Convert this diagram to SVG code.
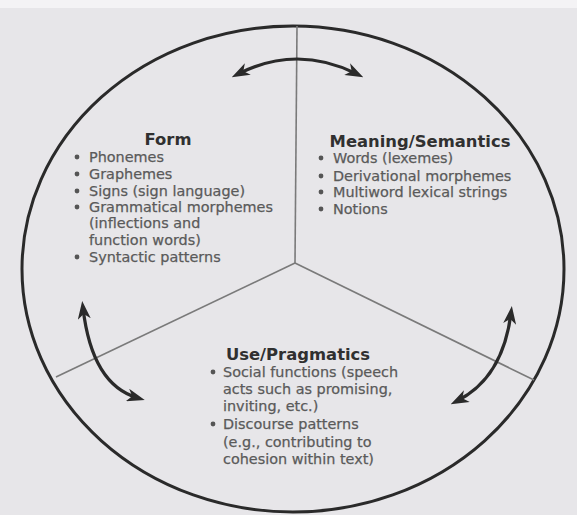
<svg xmlns="http://www.w3.org/2000/svg" width="577" height="515" viewBox="0 0 577 515">
<defs>
<style>
.bg{fill:#e7e6e9}
.rim{fill:none;stroke:#2a2a2a;stroke-width:3}
.div{stroke:#7a7a7a;stroke-width:1.6;fill:none}
.arr{fill:none;stroke:#2a2a2a;stroke-width:3.2}
.title{font-family:"DejaVu Sans",Verdana,sans-serif;font-weight:bold;font-size:16.4px;fill:#303030;text-anchor:middle}
.item{font-family:"DejaVu Sans",Verdana,sans-serif;font-size:14.4px;fill:#5a5a5a;stroke:#5a5a5a;stroke-width:0.25}
.dot{fill:#555}
</style>
<marker id="ah" viewBox="0 0 18 13" refX="11" refY="6.5" markerWidth="18" markerHeight="13" orient="auto-start-reverse" markerUnits="userSpaceOnUse">
<path d="M0,0 L18,6.5 L0,13 L5,6.5 z" fill="#2a2a2a"/>
</marker>
</defs>
<rect class="bg" x="0" y="0" width="577" height="515"/>
<rect x="0" y="0" width="577" height="8" fill="#f4f3f5"/>
<g id="frame">
<ellipse class="rim" cx="293" cy="269" rx="271" ry="243"/>
</g>
<g id="dividers">
<line class="div" x1="295" y1="263" x2="297" y2="26"/>
<line class="div" x1="295" y1="263" x2="56" y2="377"/>
<line class="div" x1="295" y1="263" x2="534" y2="380"/>
</g>
<g id="connectors">
<path class="arr" d="M238 74 Q297 44 357 74" marker-start="url(#ah)" marker-end="url(#ah)"/>
<path class="arr" d="M83 308 Q92 385 138 398" marker-start="url(#ah)" marker-end="url(#ah)"/>
<path class="arr" d="M511 313 Q503 378 457 401" marker-start="url(#ah)" marker-end="url(#ah)"/>
</g>
<g id="form">
<text class="title" x="168" y="145">Form</text>
<circle class="dot" cx="77" cy="157" r="2.4"/>
<text class="item" x="89" y="162">Phonemes</text>
<circle class="dot" cx="77" cy="174" r="2.4"/>
<text class="item" x="89" y="179">Graphemes</text>
<circle class="dot" cx="77" cy="191" r="2.4"/>
<text class="item" x="89" y="196">Signs (sign language)</text>
<circle class="dot" cx="77" cy="207" r="2.4"/>
<text class="item" x="89" y="212">Grammatical morphemes</text>
<text class="item" x="89" y="228">(inflections and</text>
<text class="item" x="89" y="245">function words)</text>
<circle class="dot" cx="77" cy="257" r="2.4"/>
<text class="item" x="89" y="262">Syntactic patterns</text>
</g>
<g id="meaning">
<text class="title" x="420" y="147">Meaning/Semantics</text>
<circle class="dot" cx="321" cy="158" r="2.4"/>
<text class="item" x="333" y="163">Words (lexemes)</text>
<circle class="dot" cx="321" cy="176" r="2.4"/>
<text class="item" x="333" y="181">Derivational morphemes</text>
<circle class="dot" cx="321" cy="192" r="2.4"/>
<text class="item" x="333" y="197">Multiword lexical strings</text>
<circle class="dot" cx="321" cy="209" r="2.4"/>
<text class="item" x="333" y="214">Notions</text>
</g>
<g id="use">
<text class="title" x="298" y="360">Use/Pragmatics</text>
<circle class="dot" cx="213" cy="372" r="2.4"/>
<text class="item" x="223" y="377">Social functions (speech</text>
<text class="item" x="223" y="394">acts such as promising,</text>
<text class="item" x="223" y="411">inviting, etc.)</text>
<circle class="dot" cx="213" cy="424" r="2.4"/>
<text class="item" x="223" y="429">Discourse patterns</text>
<text class="item" x="223" y="447">(e.g., contributing to</text>
<text class="item" x="223" y="464">cohesion within text)</text>
</g>
</svg>
